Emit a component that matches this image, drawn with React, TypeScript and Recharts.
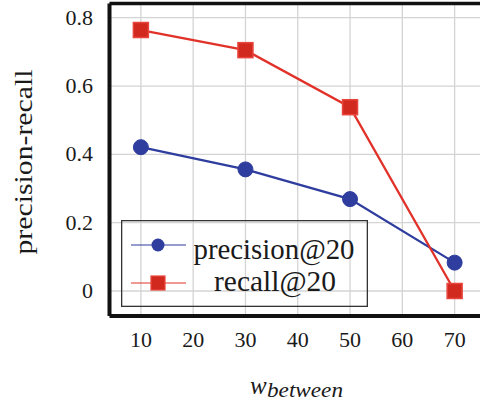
import React from 'react';
import {
  LineChart,
  Line,
  XAxis,
  YAxis,
  CartesianGrid,
  ReferenceLine,
  Legend,
} from 'recharts';

const wBetween = [10, 30, 50, 70];
const precisionAt20 = [0.421, 0.356, 0.269, 0.083];
const recallAt20 = [0.764, 0.705, 0.538, 0.0];
const xTicks = [10, 20, 30, 40, 50, 60, 70];
const yTicks = [0, 0.2, 0.4, 0.6, 0.8];
const seriesNames = ['precision@20', 'recall@20'];

const X_DOMAIN: [number, number] = [4, 76];
const Y_DOMAIN: [number, number] = [-0.0732, 0.8416];

const BLUE = '#2e3d9e';
const RED = '#e1322a';
const INK = '#1a1a1a';
const FONT = "'Liberation Serif', 'Times New Roman', Times, serif";

const chartData = wBetween.map((w, i) => ({
  w,
  precision: precisionAt20[i],
  recall: recallAt20[i],
}));

// red square markers for recall
const SquareDot = (props: any) => {
  const { cx, cy, index } = props;
  if (cx == null || cy == null) return null;
  return (
    <rect
      key={`sq-${index}`}
      x={cx - 7.5}
      y={cy - 7.5}
      width={15}
      height={15}
      fill="#d2291f"
      stroke="#e8463d"
      strokeWidth={1.5}
    />
  );
};

const XTick = (props: any) => {
  const { x, y, payload } = props;
  return (
    <text x={x} y={y + 31} textAnchor="middle" style={{ fontFamily: FONT, fontSize: 22 }} fill={INK}>
      {payload.value}
    </text>
  );
};

const YTick = (props: any) => {
  const { x, y, payload } = props;
  const v = payload.value as number;
  return (
    <text x={x} y={y + 7} textAnchor="end" style={{ fontFamily: FONT, fontSize: 22 }} fill={INK}>
      {v === 0 ? '0' : v.toFixed(1)}
    </text>
  );
};

function LegendBox() {
  return (
    <svg width={247} height={87} style={{ display: 'block' }}>
      <rect x={0.65} y={0.65} width={245.7} height={85.7} fill="none" stroke="#333" strokeWidth={1.3} />
      <line x1={10} x2={65} y1={25} y2={25} stroke={BLUE} strokeWidth={1.2} />
      <circle cx={37} cy={25} r={6.5} fill={BLUE} />
      <text
        x={153}
        y={39}
        textAnchor="middle"
        style={{ fontFamily: FONT, fontSize: 29 }}
        fill={INK}
        textLength={161}
        lengthAdjust="spacingAndGlyphs"
      >
        {seriesNames[0]}
      </text>
      <line x1={10} x2={65} y1={63} y2={63} stroke={RED} strokeWidth={1.2} />
      <rect x={30} y={56} width={14} height={14} fill="#d2291f" stroke="#e8463d" strokeWidth={1.2} />
      <text
        x={154}
        y={71}
        textAnchor="middle"
        style={{ fontFamily: FONT, fontSize: 29 }}
        fill={INK}
        textLength={122}
        lengthAdjust="spacingAndGlyphs"
      >
        {seriesNames[1]}
      </text>
    </svg>
  );
}

export default function App() {
  return (
    <div
      style={{
        position: 'absolute',
        left: 0,
        top: 0,
        width: 480,
        height: 401,
        overflow: 'hidden',
        background: '#fff',
        fontFamily: FONT,
      }}
    >
      <LineChart
        width={486}
        height={401}
        data={chartData}
        margin={{ top: 3.5, right: 0, bottom: 0, left: 0 }}
      >
        <CartesianGrid stroke="#d4d4d4" strokeWidth={1.3} />
        <XAxis
          dataKey="w"
          type="number"
          domain={X_DOMAIN}
          ticks={xTicks}
          height={85}
          tickSize={0}
          tickMargin={0}
          tick={XTick}
          axisLine={{ stroke: '#111', strokeWidth: 4 }}
          label={{
            content: () => (
              <text style={{ fontFamily: FONT, fontStyle: 'italic' }} fill={INK}>
                <tspan x={250} y={394} fontSize={25}>w</tspan>
                <tspan x={267} y={397} fontSize={22} textLength={76} lengthAdjust="spacingAndGlyphs">
                  between
                </tspan>
              </text>
            ),
          }}
        />
        <YAxis
          type="number"
          domain={Y_DOMAIN}
          ticks={yTicks}
          width={109.5}
          tickSize={0}
          tickMargin={16.5}
          tick={YTick}
          axisLine={{ stroke: '#111', strokeWidth: 4 }}
          label={{
            content: () => (
              <text
                transform="translate(32,162) rotate(-90)"
                textAnchor="middle"
                style={{ fontFamily: FONT, fontSize: 26 }}
                fill={INK}
                textLength={185}
                lengthAdjust="spacingAndGlyphs"
              >
                precision-recall
              </text>
            ),
          }}
        />
        <ReferenceLine y={Y_DOMAIN[1]} stroke="#111" strokeWidth={3.5} />
        <Legend
          layout="vertical"
          align="center"
          verticalAlign="middle"
          wrapperStyle={{ position: 'absolute', left: 121, top: 220, width: 247, height: 87 }}
          content={() => <LegendBox />}
        />
        <Line
          dataKey="precision"
          name={seriesNames[0]}
          stroke={BLUE}
          strokeWidth={2.3}
          dot={{ r: 7.5, fill: BLUE, stroke: BLUE, strokeWidth: 1 }}
          isAnimationActive={false}
        />
        <Line
          dataKey="recall"
          name={seriesNames[1]}
          stroke={RED}
          strokeWidth={2.3}
          dot={SquareDot}
          isAnimationActive={false}
        />
      </LineChart>
    </div>
  );
}
